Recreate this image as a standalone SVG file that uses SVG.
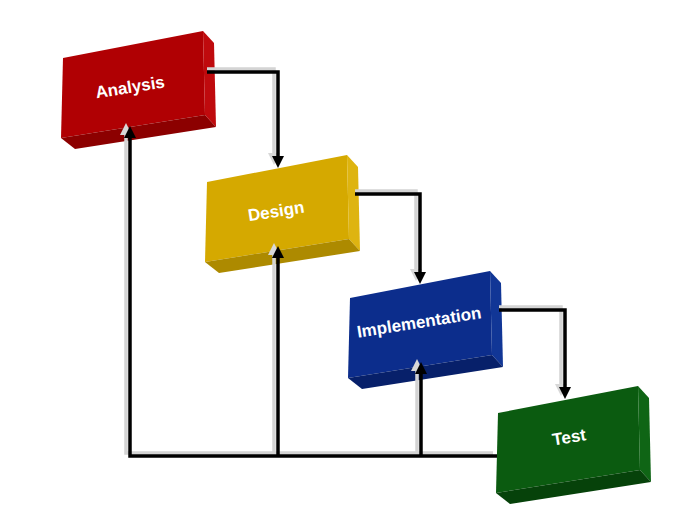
<svg xmlns="http://www.w3.org/2000/svg" width="700" height="525" viewBox="0 0 700 525">
  <style>
    .lbl { font-family: "Liberation Sans", Arial, sans-serif; font-weight: bold; font-size: 17px; fill: #ffffff; text-anchor: middle; }
    .ln { fill: none; stroke: #000; stroke-width: 3.5; stroke-linejoin: miter; }
    .sh { fill: none; stroke: #d4d4d4; stroke-width: 3.5; }
    #analysis .f { fill: #b00003; } #analysis .s { fill: #bf0a0d; } #analysis .b { fill: #8c0000; }
    #design .f { fill: #d5a900; } #design .s { fill: #deb410; } #design .b { fill: #ad8a00; }
    #implementation .f { fill: #0c2d8c; } #implementation .s { fill: #113696; } #implementation .b { fill: #07206a; }
    #test .f { fill: #0b5b10; } #test .s { fill: #0f6515; } #test .b { fill: #06420a; }
  </style>
  <defs>
    <marker id="ah" markerUnits="userSpaceOnUse" markerWidth="14" markerHeight="14" refX="4" refY="6" orient="auto">
      <path d="M0,0 L12,6 L0,12 Z" fill="#000"/>
    </marker>
    <marker id="ahs" markerUnits="userSpaceOnUse" markerWidth="14" markerHeight="14" refX="4" refY="6" orient="auto">
      <path d="M0,0 L12,6 L0,12 Z" fill="#d8d8d8"/>
    </marker>
  </defs>
  <rect width="700" height="525" fill="#ffffff"/>

  <g id="analysis">
    <g transform="translate(63,58)">
      <polygon class="f" points="0,0 140,-27 142,57 -2,80"/>
      <polygon class="s" points="140,-27 151,-15 153,69 142,57"/>
      <polygon class="b" points="-2,80 142,57 153,69 12,91"/>
    </g>
    <text class="lbl" x="130" y="87" dy="0.35em" transform="rotate(-9 130 87)">Analysis</text>
  </g>
  <g id="design">
    <g transform="translate(207,182)">
      <polygon class="f" points="0,0 140,-27 142,57 -2,80"/>
      <polygon class="s" points="140,-27 151,-15 153,69 142,57"/>
      <polygon class="b" points="-2,80 142,57 153,69 12,91"/>
    </g>
    <text class="lbl" x="276" y="211" dy="0.35em" transform="rotate(-9 276 211)">Design</text>
  </g>
  <g id="implementation">
    <g transform="translate(350,298)">
      <polygon class="f" points="0,0 140,-27 142,57 -2,80"/>
      <polygon class="s" points="140,-27 151,-15 153,69 142,57"/>
      <polygon class="b" points="-2,80 142,57 153,69 12,91"/>
    </g>
    <text class="lbl" x="419" y="322" dy="0.35em" transform="rotate(-9 419 322)">Implementation</text>
  </g>
  <g id="test">
    <g transform="translate(498,413)">
      <polygon class="f" points="0,0 140,-27 142,57 -2,80"/>
      <polygon class="s" points="140,-27 151,-15 153,69 142,57"/>
      <polygon class="b" points="-2,80 142,57 153,69 12,91"/>
    </g>
    <text class="lbl" x="569" y="437" dy="0.35em" transform="rotate(-9 569 437)">Test</text>
  </g>

  <g id="connectors">
    <g transform="translate(-4,-3)">
      <path class="sh" d="M211,72 H278 V160" marker-end="url(#ahs)"/>
      <path class="sh" d="M359,194 H420 V276" marker-end="url(#ahs)"/>
      <path class="sh" d="M503,310 H565 V391" marker-end="url(#ahs)"/>
      <path class="sh" d="M497,456 H130 V134" marker-end="url(#ahs)"/>
      <path class="sh" d="M278,456 V254" marker-end="url(#ahs)"/>
      <path class="sh" d="M421,456 V370" marker-end="url(#ahs)"/>
    </g>
    <path class="ln" d="M207,72 H278 V160" marker-end="url(#ah)"/>
    <path class="ln" d="M355,194 H420 V276" marker-end="url(#ah)"/>
    <path class="ln" d="M499,310 H565 V391" marker-end="url(#ah)"/>
    <path class="ln" d="M497,456 H130 V134" marker-end="url(#ah)"/>
    <path class="ln" d="M278,456 V254" marker-end="url(#ah)"/>
    <path class="ln" d="M421,456 V370" marker-end="url(#ah)"/>
  </g>
</svg>
